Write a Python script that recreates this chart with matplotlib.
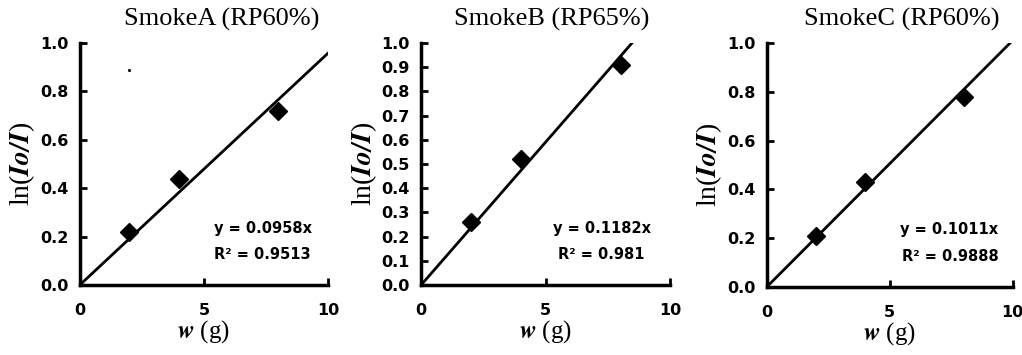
import numpy as np
import matplotlib.pyplot as plt
from matplotlib.ticker import FormatStrFormatter

plt.rcParams['mathtext.fontset'] = 'stix'

titles = ["SmokeA (RP60%)", "SmokeB (RP65%)", "SmokeC (RP60%)"]
w = [2.0, 4.0, 8.0]
lnA = [0.22, 0.44, 0.72]
lnB = [0.26, 0.52, 0.91]
lnC = [0.21, 0.43, 0.78]
slopes = [0.0958, 0.1182, 0.1011]
r2 = ["0.9513", "0.981", "0.9888"]
ystep = [0.2, 0.1, 0.2]
# stray speck in the first panel of the scan
speck_x = [2.0]
speck_y = [0.89]

fig = plt.figure(figsize=(10.22, 3.55), dpi=100)
pos = [[0.078, 0.197, 0.243, 0.682],
       [0.412, 0.197, 0.244, 0.682],
       [0.750, 0.191, 0.241, 0.688]]
eqx = [[5.4, 5.4], [5.3, 5.5], [5.4, 5.5]]
tx = [0.217, 0.540, 0.882]

for i, ys in enumerate([lnA, lnB, lnC]):
    ax = fig.add_axes(pos[i])
    xx = np.array([0.0, 10.0])
    ax.plot(xx, slopes[i] * xx, color='black', lw=2.0)
    ax.plot(w, ys, 'D', color='black', ms=9)
    if i == 0:
        ax.plot(speck_x, speck_y, '.', color='black', ms=2.5)
    ax.set_xlim(0, 10)
    ax.set_ylim(0, 1.0)
    ax.set_xticks([0, 5, 10])
    ax.set_yticks(np.arange(0, 1.0001, ystep[i]))
    ax.yaxis.set_major_formatter(FormatStrFormatter('%.1f'))
    for s in ['top', 'right']:
        ax.spines[s].set_visible(False)
    for s in ['left', 'bottom']:
        ax.spines[s].set_linewidth(2.5)
    ax.tick_params(direction='in', length=5, width=2)
    ax.tick_params(axis='x', pad=13)
    ax.tick_params(axis='y', pad=8)
    for lab in ax.get_xticklabels() + ax.get_yticklabels():
        lab.set_fontfamily('DejaVu Sans')
        lab.set_fontweight('bold')
        lab.set_fontsize(11.5)
    ax.set_xlabel(r"$\mathbfit{w}$ (g)", family='Liberation Serif',
                  fontsize=18, labelpad=0)
    ax.set_ylabel(r"ln($\mathbfit{Io/I}$)", family='Liberation Serif',
                  fontsize=20, labelpad=2)
    ax.text(eqx[i][0], 0.235, "y = %.4fx" % slopes[i], family='DejaVu Sans',
            fontweight='bold', fontsize=10.5, va='center')
    ax.text(eqx[i][1], 0.125, "R\u00b2 = " + r2[i], family='DejaVu Sans',
            fontweight='bold', fontsize=10.5, va='center')
    fig.text(tx[i], 0.945, titles[i], family='Liberation Serif', fontsize=19,
             ha='center', va='center')

fig.savefig('out.png', dpi=100)
